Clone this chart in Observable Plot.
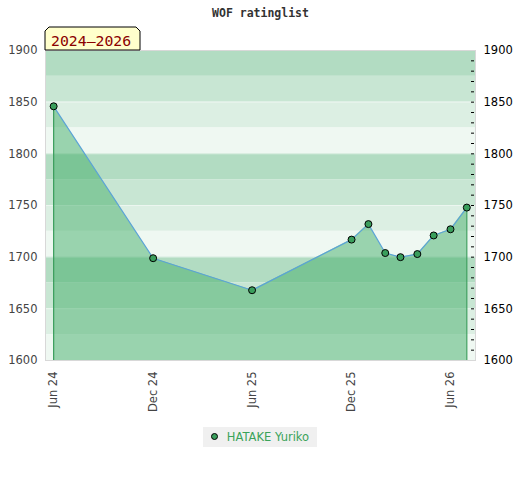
<!DOCTYPE html>
<html><head><meta charset="utf-8">
<script src="https://cdn.jsdelivr.net/npm/d3@7"></script>
<script src="https://cdn.jsdelivr.net/npm/@observablehq/plot@0.6"></script>
<style>
body{margin:0;background:#fff;font-family:"DejaVu Sans",sans-serif;width:520px;height:480px;overflow:hidden}
#legend{text-align:center;margin-top:7px;height:20px}
#legend span.box{display:inline-block;background:#f0f0f0;height:20px;line-height:20px;padding:0 8px 0 8px;font-size:11.5px;color:#3aa35a;vertical-align:top}
#legend span.dot{display:inline-block;width:5px;height:5px;border-radius:50%;background:#3a9e5c;border:1px solid #000;margin-right:9px;vertical-align:middle;position:relative;top:-1px}
</style></head><body>
<div id="chart"></div>
<div id="legend"></div>
<script>
const chartTitle = "WOF ratinglist";
const periodLabel = "2024–2026";
const playerName = "HATAKE Yuriko";
const months = ["2024-06-01","2024-12-01","2025-06-01","2025-12-01","2026-01-01","2026-02-01","2026-03-01","2026-04-01","2026-05-01","2026-06-01","2026-07-01"];
const ratings = [1846,1699,1668,1717,1732,1704,1700,1703,1721,1727,1748];
const xTicks = ["2024-06-01","2024-12-01","2025-06-01","2025-12-01","2026-06-01"];
const xDomain = ["2024-05-17","2026-07-17"];
const yLabels = [1600,1650,1700,1750,1800,1850,1900];
const yMinor = [1610,1620,1630,1640,1650,1660,1670,1680,1690,1700,1710,1720,1730,1740,1750,1760,1770,1780,1790,1800,1810,1820,1830,1840,1850,1860,1870,1880,1890];
const bandTops = [1900,1875,1850,1825,1800,1775,1750,1725,1700,1675,1650,1625];
const bandShades = ["#b2dcc2","#c8e6d3","#dcefe3","#eff8f2"];
const yBase = 1600;

const data = months.map((m,i)=>({date:new Date(m), r:ratings[i]}));
const bands = bandTops.map((t,i)=>({y2:t, y1:t-25, fill:bandShades[i%4]}));
const ends = [data[0], data[data.length-1]];

const mL = 45, mT = 50;
const chart = Plot.plot({
  width:520, height:420,
  marginTop:mT, marginLeft:mL, marginRight:45, marginBottom:60,
  style:{fontFamily:"DejaVu Sans", fontSize:"11px", background:"transparent"},
  x:{type:"utc", domain:xDomain.map(d=>new Date(d))},
  y:{domain:[1600,1900]},
  color:{type:"identity"},
  marks:[
    Plot.rect(bands,{y1:"y1",y2:"y2",fill:"fill",inset:0}),
    Plot.ruleY(yLabels.slice(1,-1),{stroke:"#ffffff",strokeOpacity:0.45}),
    Plot.areaY(data,{x:"date",y1:yBase,y2:"r",fill:"#43ae69",fillOpacity:0.5}),
    Plot.ruleX(ends,{x:"date",y1:yBase,y2:"r",stroke:"#3a9e5c",strokeWidth:1.2}),
    Plot.line(data,{x:"date",y:"r",stroke:"#5ba3d6",strokeWidth:1.2}),
    Plot.dot(data,{x:"date",y:"r",r:3.5,fill:"#3a9e5c",stroke:"#000",strokeWidth:1}),
    Plot.frame({stroke:"#d8d8d8"}),
    Plot.axisY(yLabels,{anchor:"left",tickSize:0,tickPadding:8,fill:"#444",fontSize:11.5,tickFormat:"d"}),
    Plot.axisY(yLabels,{anchor:"right",tickSize:0,tickPadding:8,fill:"#000",fontSize:11.5,tickFormat:"d"}),
    Plot.axisY(yMinor,{anchor:"right",tickSize:3,dx:-5,text:null,stroke:"#000"}),
    Plot.axisX(xTicks.map(d=>new Date(d)),{anchor:"bottom",tickSize:0,tickPadding:11,tickRotate:-90,tickFormat:d3.utcFormat("%b %y"),fill:"#444",fontSize:11.5}),
    Plot.text([chartTitle],{frameAnchor:"top",dy:-37,lineAnchor:"middle",fontFamily:"DejaVu Sans Mono",fontWeight:"bold",fontSize:11.5,fill:"#333"})
  ]
});
document.getElementById("chart").appendChild(chart);

// period label box
const svg = d3.select(chart);
const bx = mL, bw = 95, by = 27, bh = mT - 27, c = 4;
svg.append("path")
  .attr("d",`M${bx},${by+bh} V${by+c} L${bx+c},${by} H${bx+bw-c} L${bx+bw},${by+c} V${by+bh} Z`)
  .attr("fill","#ffffcc").attr("stroke","#000").attr("stroke-width",1);
svg.append("text").attr("x",bx+6).attr("y",by+19).attr("text-anchor","start")
  .attr("font-family","DejaVu Sans Mono").attr("font-size",14.8).attr("fill","#8b0000")
  .text(periodLabel);

// legend
const lg = d3.select("#legend").append("span").attr("class","box");
lg.append("span").attr("class","dot");
lg.append("span").text(playerName);
</script>
</body></html>
